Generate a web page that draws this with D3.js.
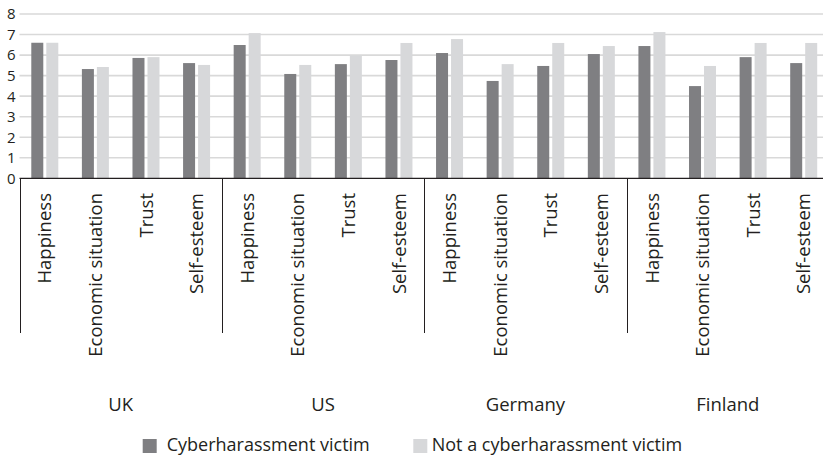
<!DOCTYPE html>
<html>
<head>
<meta charset="utf-8">
<script src="https://cdn.jsdelivr.net/npm/d3@7"></script>
<style>
  body { margin: 0; background: #fff; }
  svg { display: block; font-family: 'Open Sans', 'Noto Sans', sans-serif; }
</style>
</head>
<body>
<div id="chart"></div>
<script>
'use strict';

const countries = ['UK', 'US', 'Germany', 'Finland'];
const measures = ['Happiness', 'Economic situation', 'Trust', 'Self-esteem'];
const seriesNames = ['Cyberharassment victim', 'Not a cyberharassment victim'];
// per country, in measure order
const victim = [
  [6.6, 5.32, 5.86, 5.61],
  [6.49, 5.08, 5.56, 5.76],
  [6.1, 4.74, 5.47, 6.05],
  [6.44, 4.49, 5.9, 5.61]
];
const notVictim = [
  [6.6, 5.42, 5.9, 5.52],
  [7.07, 5.52, 5.99, 6.59],
  [6.78, 5.56, 6.59, 6.44],
  [7.12, 5.47, 6.59, 6.59]
];
const yTicks = [0, 1, 2, 3, 4, 5, 6, 7, 8];

const W = 823, H = 457;
const colors = ['#7f7f82', '#d7d8da'];
const ink = '#231f20';

const $svg = d3.select('#chart').append('svg').attr('width', W).attr('height', H);

const x0 = d3.scaleBand().domain(countries).range([19.5, 829]).padding(0);
const x1 = d3.scaleBand().domain(measures).range([0, x0.bandwidth()]).padding(0);
const y = d3.scaleLinear().domain([0, 8]).range([178.3, 14]);

const barW = 12, gap = 3;

// gridlines
$svg.append('g').selectAll('line')
  .data(yTicks.filter((d) => d > 0))
  .enter().append('line')
  .attr('x1', 19.5).attr('x2', W)
  .attr('y1', (d) => y(d)).attr('y2', (d) => y(d))
  .attr('stroke', '#d9d9d9').attr('stroke-width', 1.6);

// y labels
$svg.append('g').selectAll('text')
  .data(yTicks)
  .enter().append('text')
  .attr('x', 15.5).attr('y', (d) => y(d))
  .attr('dy', '0.36em')
  .attr('text-anchor', 'end')
  .attr('font-size', 15)
  .attr('fill', ink)
  .text((d) => d);

// bars
const rows = [];
countries.forEach((c, ci) => {
  measures.forEach((m, mi) => {
    rows.push({ c, m, s: 0, v: victim[ci][mi] });
    rows.push({ c, m, s: 1, v: notVictim[ci][mi] });
  });
});

$svg.append('g').selectAll('rect')
  .data(rows)
  .enter().append('rect')
  .attr('x', (d) => {
    const cx = x0(d.c) + x1(d.m) + x1.bandwidth() / 2;
    return d.s === 0 ? cx - gap / 2 - barW : cx + gap / 2;
  })
  .attr('y', (d) => y(d.v))
  .attr('width', barW)
  .attr('height', (d) => y(0) - y(d.v))
  .attr('fill', (d) => colors[d.s]);

// axis line and group separators
$svg.append('line')
  .attr('x1', 19.5).attr('x2', W)
  .attr('y1', y(0)).attr('y2', y(0))
  .attr('stroke', ink).attr('stroke-width', 1.2);

$svg.append('g').selectAll('line')
  .data(countries.concat(['end']))
  .enter().append('line')
  .attr('x1', (d, i) => Math.round(19.5 + i * x0.bandwidth()) + 0.5)
  .attr('x2', (d, i) => Math.round(19.5 + i * x0.bandwidth()) + 0.5)
  .attr('y1', y(0)).attr('y2', 333)
  .attr('stroke', ink).attr('stroke-width', 1);

// measure labels (rotated)
const labels = [];
countries.forEach((c) => measures.forEach((m) => labels.push({ c, m })));
$svg.append('g').selectAll('text')
  .data(labels)
  .enter().append('text')
  .attr('transform', (d) => {
    const cx = x0(d.c) + x1(d.m) + x1.bandwidth() / 2;
    return 'translate(' + cx + ',193) rotate(-90)';
  })
  .attr('dy', '0.36em')
  .attr('text-anchor', 'end')
  .attr('font-size', 18.5)
  .attr('fill', ink)
  .text((d) => d.m);

// country labels
$svg.append('g').selectAll('text')
  .data(countries)
  .enter().append('text')
  .attr('x', (d) => x0(d) + x0.bandwidth() / 2)
  .attr('y', 404)
  .attr('dy', '0.36em')
  .attr('text-anchor', 'middle')
  .attr('font-size', 18.5)
  .attr('fill', ink)
  .text((d) => d);

// legend
const legendX = [142.7, 413.3];
const $legend = $svg.append('g').selectAll('g')
  .data(seriesNames)
  .enter().append('g')
  .attr('transform', (d, i) => 'translate(' + legendX[i] + ',445)');
$legend.append('rect')
  .attr('x', 0).attr('y', -6).attr('width', 14).attr('height', 14)
  .attr('fill', (d, i) => colors[i]);
$legend.append('text')
  .attr('x', (d, i) => i === 0 ? 24 : 18.4)
  .attr('dy', '0.36em')
  .attr('font-size', 18)
  .attr('fill', ink)
  .text((d) => d);
</script>
</body>
</html>
